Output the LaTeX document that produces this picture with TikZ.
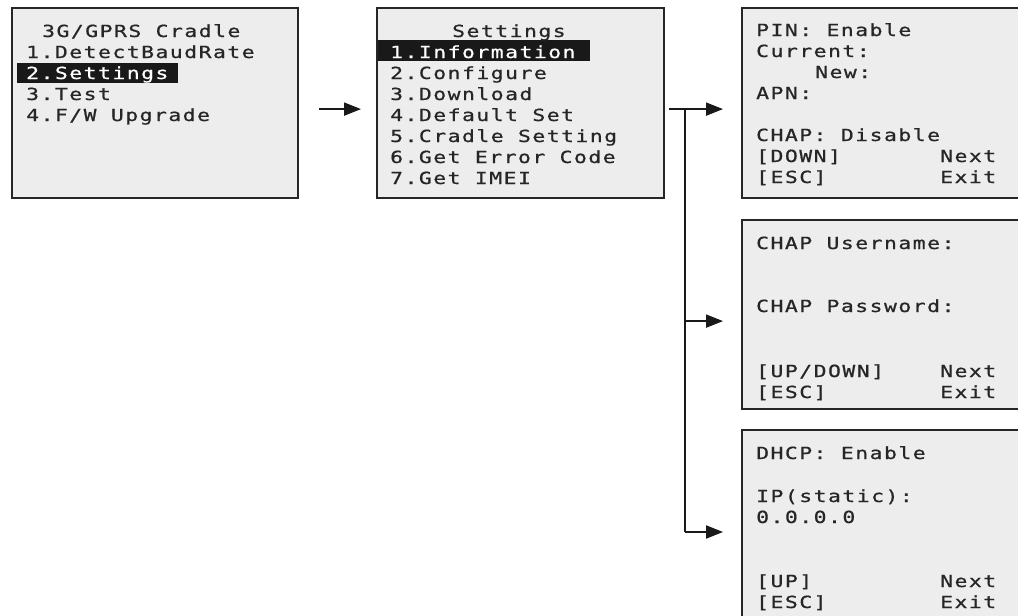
\documentclass[tikz,border=0pt]{standalone}
\usepackage{fontspec}
\usetikzlibrary{arrows.meta,calc}
\newfontfamily\lcd[FakeStretch=1.28, LetterSpace=9, FakeBold=0.8]{DejaVu Sans Mono}
\begin{document}
\begin{tikzpicture}[x=1pt,y=-1pt,
  screen/.style={draw=black!85, line width=2.2pt, fill=black!7, inner sep=0pt, anchor=north west},
  txt/.style={anchor=base west, inner sep=0pt, font=\lcd\fontsize{16.7}{20}\selectfont, text=black!85},
  hltxt/.style={txt, text=white},
  hlbar/.style={fill=black!90, draw=none, anchor=north west, inner sep=0pt},
  arr/.style={line width=2pt, draw=black!90, -{Triangle[length=17pt,width=13pt]}},
  link/.style={line width=2pt, draw=black!90}]
\useasboundingbox (0,0) rectangle (1018,616);
\begin{scope}
\clip (0,0) rectangle (1018,616);
% screens
\node[screen, minimum width=286pt, minimum height=190pt] (s1) at (11,7) {};
\node[screen, minimum width=287pt, minimum height=190pt] (s2) at (376,7) {};
\node[screen, minimum width=300pt, minimum height=190pt] (s3) at (741,7) {};
\node[screen, minimum width=300pt, minimum height=189pt] (s4) at (741,219) {};
\node[screen, minimum width=300pt, minimum height=221pt] (s5) at (741,429) {};
% highlight bars
\node[hlbar, minimum width=161pt, minimum height=20pt] (h1) at (17,63) {};
\node[hlbar, minimum width=212pt, minimum height=21pt] (h2) at (378,40) {};
% screen 1
\node[txt] (t11) at (42,37) {3G/GPRS Cradle};
\node[txt] (t12) at (26,58) {1.DetectBaudRate};
\node[hltxt] (t13) at (26,79) {2.Settings};
\node[txt] (t14) at (26,100) {3.Test};
\node[txt] (t15) at (26,121) {4.F/W Upgrade};
% screen 2
\node[txt] (t21) at (452,37) {Settings};
\node[hltxt] (t22) at (390,58) {1.Information};
\node[txt] (t23) at (390,79) {2.Configure};
\node[txt] (t24) at (390,100) {3.Download};
\node[txt] (t25) at (390,121) {4.Default Set};
\node[txt] (t26) at (390,142) {5.Cradle Setting};
\node[txt] (t27) at (390,163) {6.Get Error Code};
\node[txt] (t28) at (390,184) {7.Get IMEI};
% screen 3
\node[txt] (t31) at (756,36) {PIN: Enable};
\node[txt] (t32) at (756,57) {Current:};
\node[txt] (t33) at (815,78) {New:};
\node[txt] (t34) at (756,99) {APN:};
\node[txt] (t35) at (756,141) {CHAP: Disable};
\node[txt] (t36) at (756,162) {[DOWN]};
\node[txt] (t36b) at (940,162) {Next};
\node[txt] (t37) at (756,183) {[ESC]};
\node[txt] (t37b) at (940,183) {Exit};
% screen 4
\node[txt] (t41) at (756,249) {CHAP Username:};
\node[txt] (t42) at (756,312) {CHAP Password:};
\node[txt] (t43) at (756,377) {[UP/DOWN]};
\node[txt] (t43b) at (940,377) {Next};
\node[txt] (t44) at (756,398) {[ESC]};
\node[txt] (t44b) at (940,398) {Exit};
% screen 5
\node[txt] (t51) at (756,459) {DHCP: Enable};
\node[txt] (t52) at (756,502) {IP(static):};
\node[txt] (t53) at (756,523) {0.0.0.0};
\node[txt] (t54) at (756,587) {[UP]};
\node[txt] (t54b) at (940,587) {Next};
\node[txt] (t55) at (756,608) {[ESC]};
\node[txt] (t55b) at (940,608) {Exit};
\end{scope}
% connectors
\coordinate (j) at ($(s2.east)+(20,6)$);
\coordinate (k4) at ($(s4.west)+(-18,6.5)$);
\coordinate (k5) at ($(s5.north west)+(-18,103)$);
\draw[arr] ($(s1.east)+(20,6)$) -- ($(s2.west)+(-15,6)$);
\draw[arr] ($(s2.east)+(4,6)$) -- ($(s3.west)+(-18,6)$);
\draw[link] (j) -- (j |- k5);
\draw[arr] (j |- k4) -- (k4);
\draw[arr] (j |- k5) -- (k5);
\end{tikzpicture}
\end{document}
